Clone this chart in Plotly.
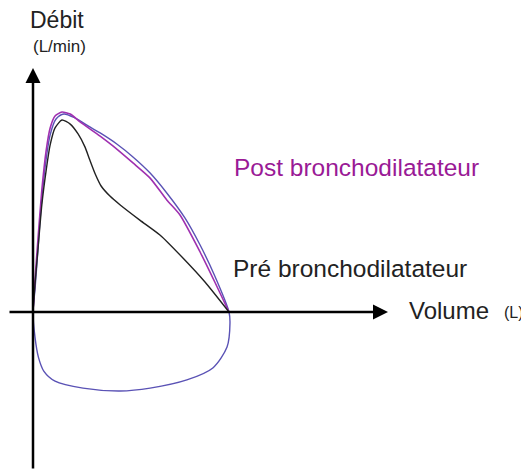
import plotly.graph_objects as go

# Data (Volume in L, Débit in L/s, arbitrary scale)
pre_vol = [0, 0.04, 0.10, 0.18, 0.27, 0.35, 0.45, 0.59, 0.76, 0.92, 1.06, 1.16, 1.27, 1.39, 1.57, 1.78, 2.18, 2.59, 3.06, 3.51, 4.00]
pre_flow = [0, 1.13, 2.58, 4.46, 5.92, 6.96, 7.67, 8.00, 7.83, 7.42, 6.88, 6.33, 5.75, 5.25, 4.83, 4.46, 3.83, 3.21, 2.25, 1.25, 0]

post_vol = [0, 0.04, 0.10, 0.18, 0.27, 0.35, 0.45, 0.59, 0.76, 0.96, 1.37, 1.63, 2.04, 2.39, 2.73, 3.00, 3.41, 3.71, 4.00]
post_flow = [0, 1.33, 3.00, 5.08, 6.75, 7.67, 8.17, 8.33, 8.25, 7.92, 7.33, 6.92, 6.21, 5.58, 4.67, 4.04, 2.50, 1.25, 0]

loop_vol = [0, 0.04, 0.10, 0.16, 0.24, 0.35, 0.47, 0.63, 0.86, 1.16, 1.37, 1.71, 2.04, 2.39, 2.73, 3.10, 3.41, 3.71, 4.00,
            4.02, 3.96, 3.67, 3.14, 2.39, 1.78, 1.02, 0.45, 0.22, 0.11, 0.04, 0]
loop_flow = [0, 0.92, 2.58, 4.25, 5.92, 7.38, 8.04, 8.25, 8.08, 7.71, 7.46, 7.00, 6.46, 5.79, 4.96, 3.92, 2.79, 1.50, 0,
             -0.46, -1.46, -2.33, -2.83, -3.17, -3.29, -3.17, -2.88, -2.46, -1.88, -1.04, 0]

# Page body has an 8px margin: figure drawn 8px inside the window
PAGE_OFF = 8
W, H = 529 - PAGE_OFF, 470 - PAGE_OFF
PX_PER_L = 49.0
PX_PER_F = 24.0
OX, OY = 33, 312   # origin in window pixels


def vx(px):
    return (px - OX) / PX_PER_L


def fy(py):
    return (OY - py) / PX_PER_F


fig = go.Figure()
fig.add_trace(go.Scatter(x=loop_vol, y=loop_flow, mode="lines",
                         line=dict(color="#5a52b5", width=1.4, shape="spline", smoothing=0.8),
                         hoverinfo="skip"))
fig.add_trace(go.Scatter(x=post_vol, y=post_flow, mode="lines",
                         line=dict(color="#a030b0", width=1.6, shape="spline", smoothing=0.6),
                         hoverinfo="skip"))
fig.add_trace(go.Scatter(x=pre_vol, y=pre_flow, mode="lines",
                         line=dict(color="#222222", width=1.4, shape="spline", smoothing=0.6),
                         hoverinfo="skip"))

annotations = [
    # vertical axis arrow
    dict(x=vx(33), y=fy(68), ax=vx(33), ay=fy(470), xref="x", yref="y", axref="x", ayref="y",
         text="", showarrow=True, arrowhead=2, arrowsize=1.2, arrowwidth=2.5, arrowcolor="black"),
    # horizontal axis arrow
    dict(x=vx(388), y=fy(312), ax=vx(8), ay=fy(312), xref="x", yref="y", axref="x", ayref="y",
         text="", showarrow=True, arrowhead=2, arrowsize=1.2, arrowwidth=2.5, arrowcolor="black"),
    dict(x=vx(57), y=fy(20), text="Débit", showarrow=False, font=dict(size=23, color="#222")),
    dict(x=vx(59), y=fy(46), text="(L/min)", showarrow=False, font=dict(size=17, color="#222")),
    dict(x=vx(449), y=fy(310), text="Volume", showarrow=False, font=dict(size=24, color="#222")),
    dict(x=vx(514), y=fy(312), text="(L)", showarrow=False, font=dict(size=16, color="#222")),
    dict(x=vx(356), y=fy(167), text="Post bronchodilatateur", showarrow=False, font=dict(size=24.5, color="#9a1a96")),
    dict(x=vx(350), y=fy(268), text="Pré bronchodilatateur", showarrow=False, font=dict(size=24.5, color="#222")),
]

fig.update_layout(
    width=W, height=H,
    margin=dict(l=0, r=0, t=0, b=0),
    paper_bgcolor="white", plot_bgcolor="white",
    showlegend=False,
    font=dict(family="Liberation Sans, Arial, sans-serif"),
    xaxis=dict(range=[vx(PAGE_OFF), vx(529)], visible=False, fixedrange=True),
    yaxis=dict(range=[fy(470), fy(PAGE_OFF)], visible=False, fixedrange=True),
    annotations=annotations,
)

fig.write_html("out.html")
